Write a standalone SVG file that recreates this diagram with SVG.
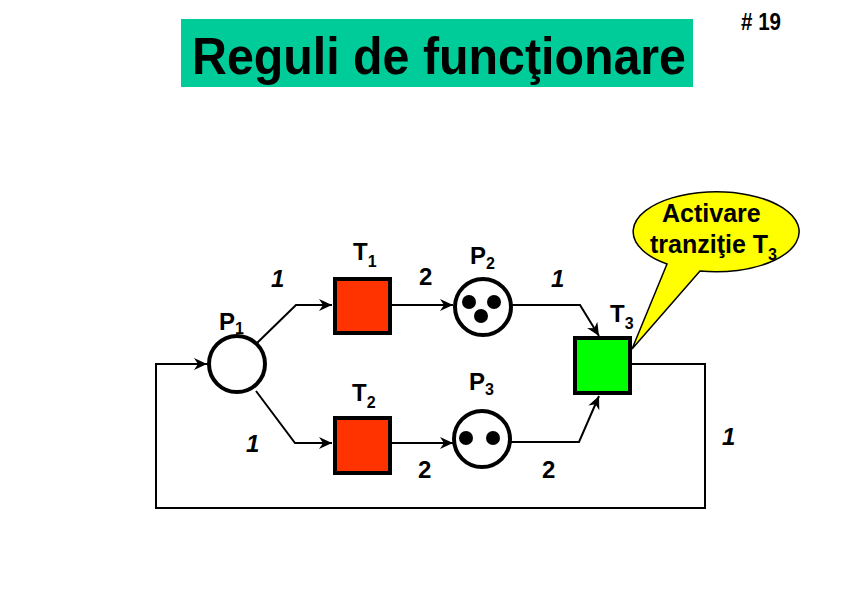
<svg xmlns="http://www.w3.org/2000/svg" width="842" height="596" viewBox="0 0 842 596">
<style>
text{font-family:"Liberation Sans",Arial,sans-serif;font-weight:bold;fill:#000}
.lbl{font-size:24px}
.sub{font-size:16px}
.w1{font-size:24px;font-style:italic}
.w2{font-size:24px}
.arc{fill:none;stroke:#000;stroke-width:2}
.place{fill:#fff;stroke:#000;stroke-width:4}
.tok{fill:#000}
.tr{stroke:#000;stroke-width:4}
</style>
<defs>
<marker id="ah" markerUnits="userSpaceOnUse" markerWidth="14" markerHeight="12" refX="13" refY="6" orient="auto">
<path d="M0,0 L13,6 L0,12 L4,6 z" fill="#000"/>
</marker>
</defs>
<rect x="181" y="19" width="512" height="68" fill="#00CC99"/>
<text x="192" y="74" font-size="52" textLength="494" lengthAdjust="spacingAndGlyphs">Reguli de funcţionare</text>
<text x="741" y="30" font-size="24" textLength="40" lengthAdjust="spacingAndGlyphs"># 19</text>
<g id="connectors">
<path class="arc" marker-end="url(#ah)" d="M257,343 L296,305 L332,305"/>
<path class="arc" marker-end="url(#ah)" d="M392,305 L453,305"/>
<path class="arc" marker-end="url(#ah)" d="M512,305 L580,305 L599,336"/>
<path class="arc" marker-end="url(#ah)" d="M256,391 L295,443 L332,443"/>
<path class="arc" marker-end="url(#ah)" d="M392,443 L453,443"/>
<path class="arc" marker-end="url(#ah)" d="M511,442 L579,442 L599,396"/>
<path class="arc" marker-end="url(#ah)" d="M632,364 L705,364 L705,508 L156,508 L156,364 L207,364"/>
</g>
<g id="P1">
<circle class="place" cx="237" cy="364" r="28"/>
<text class="lbl" x="219" y="330">P<tspan class="sub" dy="4">1</tspan></text>
</g>
<g id="P2">
<circle class="place" cx="483" cy="307" r="28"/>
<circle class="tok" cx="469" cy="302" r="7"/>
<circle class="tok" cx="494" cy="302" r="7"/>
<circle class="tok" cx="481" cy="316" r="7"/>
<text class="lbl" x="470" y="264">P<tspan class="sub" dy="5">2</tspan></text>
</g>
<g id="P3">
<circle class="place" cx="482" cy="439" r="28"/>
<circle class="tok" cx="466" cy="438" r="7"/>
<circle class="tok" cx="493" cy="438" r="7"/>
<text class="lbl" x="469" y="390">P<tspan class="sub" dy="5">3</tspan></text>
</g>
<g id="T1">
<rect class="tr" x="335" y="279" width="55" height="54" fill="#FF3300"/>
<text class="lbl" x="353" y="260">T<tspan class="sub" dy="7">1</tspan></text>
</g>
<g id="T2">
<rect class="tr" x="335" y="418" width="55" height="55" fill="#FF3300"/>
<text class="lbl" x="352" y="401">T<tspan class="sub" dy="7">2</tspan></text>
</g>
<g id="T3">
<rect class="tr" x="575" y="338" width="55" height="55" fill="#00FF00"/>
<text class="lbl" x="610" y="322">T<tspan class="sub" dy="7">3</tspan></text>
</g>
<g id="weights">
<text class="w1" x="271" y="287">1</text>
<text class="w2" x="419" y="285">2</text>
<text class="w1" x="551" y="287">1</text>
<text class="w1" x="246" y="452">1</text>
<text class="w2" x="418" y="478">2</text>
<text class="w2" x="542" y="478">2</text>
<text class="w1" x="722" y="445">1</text>
</g>
<g id="callout">
<path d="M667,264 L632,349 L700,271 A83,40 0 1 0 667,264 Z" fill="#FFFF00" stroke="#000" stroke-width="1.5"/>
<text x="662" y="222" font-size="25">Activare</text>
<text x="650" y="253" font-size="25">tranziţie T<tspan class="sub" dy="7">3</tspan></text>
</g>
</svg>
